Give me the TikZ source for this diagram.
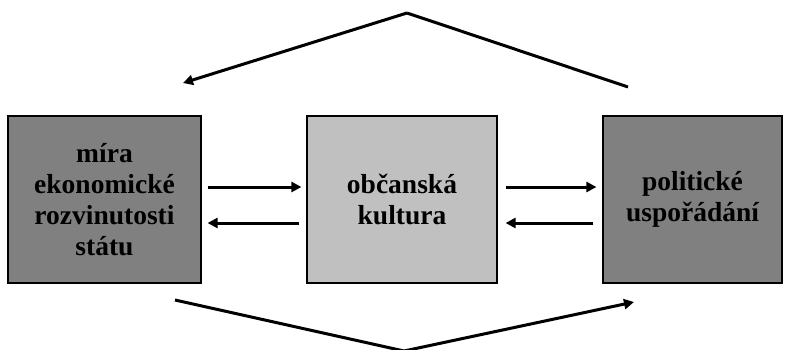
\documentclass[tikz,border=0pt]{standalone}
\usepackage{fontspec}
\setmainfont{Liberation Serif}
\usetikzlibrary{arrows.meta}
\definecolor{darkbox}{HTML}{808080}
\definecolor{lightbox}{HTML}{C0C0C0}
\tikzset{
  box/.style={draw=black, line width=1.2pt, minimum height=167pt, inner sep=0pt,
    align=center, font=\bfseries\fontsize{27.5}{31}\selectfont},
  arr/.style={line width=3pt, -{Triangle[length=10pt,width=10pt]}},
  link/.style={line width=3pt}
}
\begin{document}
\begin{tikzpicture}[x=1pt,y=-1pt]
\useasboundingbox (0,0) rectangle (787,349);
\clip (0,0) rectangle (787,349);
\node[box, fill=darkbox, minimum width=193pt] (L) at (104.5,199.5) {míra\\ekonomické\\rozvinutosti\\státu};
\node[box, fill=lightbox, minimum width=190pt] (M) at (402,199.5) {občanská\\kultura};
\node[box, fill=darkbox, minimum width=179pt] (R) at (692.5,199.5) {politické\\uspořádání};
% horizontal arrows
\draw[arr] ([shift={(6,-12.5)}]L.east) -- ([shift={(-5,-12.5)}]M.west);
\draw[arr] ([shift={(-7,23.5)}]M.west) -- ([shift={(6,23.5)}]L.east);
\draw[arr] ([shift={(8,-12.5)}]M.east) -- ([shift={(-6,-12.5)}]R.west);
\draw[arr] ([shift={(-9,23.5)}]R.west) -- ([shift={(8,23.5)}]M.east);
% top link
\coordinate (topR) at (628,87);
\coordinate (topP) at (407,13);
\coordinate (topL) at (183,83);
\draw[link] (topR) -- (topP);
\draw[arr] (topP) -- (topL);
% bottom link
\coordinate (botL) at (175,300);
\coordinate (botP) at (404,351);
\coordinate (botR) at (634,302);
\draw[link] (botL) -- (botP);
\draw[arr] (botP) -- (botR);
\end{tikzpicture}
\end{document}
